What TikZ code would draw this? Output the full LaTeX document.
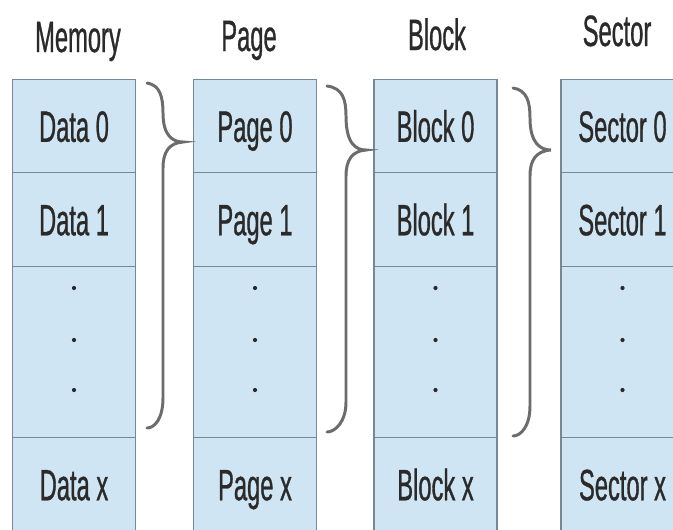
\documentclass[tikz,border=0pt]{standalone}
\usepackage{fontspec}
\setmainfont[FakeStretch=0.54, FakeBold=0.7]{Liberation Sans}
\usetikzlibrary{positioning}
\usetikzlibrary{calc}

\definecolor{cellblue}{RGB}{208,229,243}
\definecolor{cellline}{RGB}{120,136,146}
\definecolor{bracegray}{RGB}{108,108,108}
\definecolor{txtgray}{RGB}{42,42,42}

\tikzset{
  cell/.style={draw=cellline, line width=0.9pt, fill=cellblue, minimum width=2.46cm,
    inner sep=0pt, outer sep=0pt, text=txtgray, text height=18pt, text depth=0pt,
    font=\fontsize{25}{28}\selectfont},
  head/.style={text=txtgray, inner sep=0pt, font=\fontsize{25}{28}\selectfont},
  brace/.style={draw=bracegray, line width=1.7pt, line cap=round}
}

\begin{document}
\begin{tikzpicture}[x=0.02cm, y=-0.02cm]

\useasboundingbox (0,0) rectangle (673,529);
\clip (0,0) rectangle (673,529);

% one column per level
\foreach \col/\x/\hx/\hy/\name/\first in {mem/74/78/52/Memory/Data, pag/255/249/51/Page/Page,
  blk/435.5/437/50/Block/Block, sec/622.5/617/46/Sector/Sector}
{
\node[head, anchor=base] (\col-head) at (\hx,\hy) {\name};
\node[cell, minimum height=1.86cm] (\col-0) at (\x,126) {\first\ 0};
\node[cell, minimum height=1.88cm, below=0pt of \col-0] (\col-1) {\first\ 1};
\node[cell, minimum height=3.42cm, below=0pt of \col-1] (\col-dots) {};
\node[cell, minimum height=1.88cm, below=0pt of \col-dots] (\col-x) {\first\ x};
\foreach \dy in {288, 340, 390}
{
\fill[txtgray] (\x,\dy) circle (1.2pt);
}
}

% braces between the columns
\foreach \sx/\ty/\vx/\tipx/\tipy/\by in {147/83/163/183/142/428, 327/86/346/366/150/432, 513/88/530/551/150/436}
{
\draw[brace] (\sx,\ty) .. controls ({\vx-3},{\ty+2}) and (\vx,{\ty+14}) .. (\vx,{\ty+30})
  .. controls (\vx,{\tipy-6}) and ({\tipx-10},\tipy) .. (\tipx,\tipy)
  .. controls ({\vx+6},{\tipy+1}) and (\vx,{\tipy+10}) .. (\vx,{\tipy+26})
  -- (\vx,{\by-30}) .. controls (\vx,{\by-10}) and ({\sx+8},\by) .. (\sx,\by);
}

\end{tikzpicture}
\end{document}
